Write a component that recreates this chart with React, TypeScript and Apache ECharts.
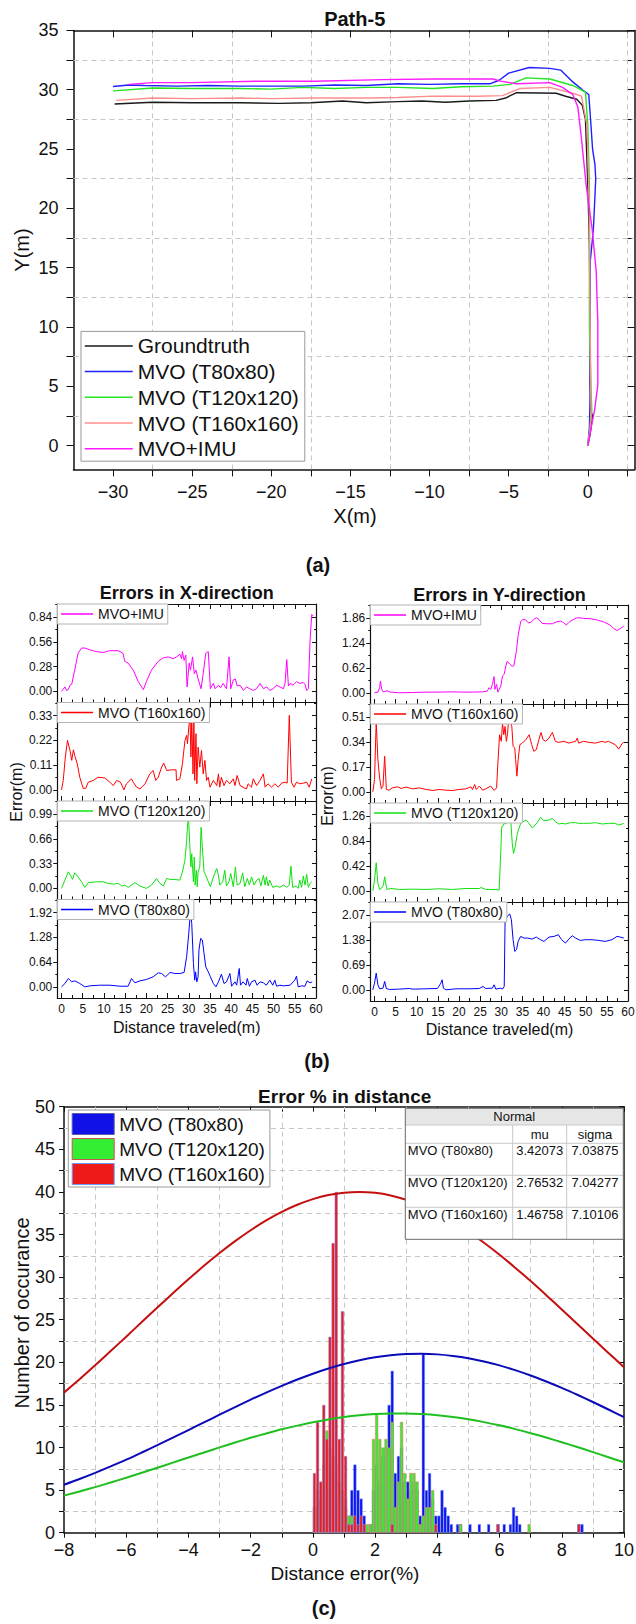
import React, { useEffect, useRef } from 'react';
import * as echarts from 'echarts';

const FONT = 'Liberation Sans, Arial, Helvetica, sans-serif';

// ---------------- (a) Path-5 trajectories ----------------
const pathNames = ['Groundtruth', 'MVO (T80x80)', 'MVO (T120x120)', 'MVO (T160x160)', 'MVO+IMU'];
const pathColors = ['#1a1a1a', '#1f1fff', '#22e622', '#ff8c8c', '#ff1aff'];
const pathGroundtruth = [[0,0],[0.15,1],[0.3,2.5],[0.2,2.9],[0.15,5],[0.15,10],[0.1,17],[0,22],[-0.15,27.5],[-0.35,28.7],[-0.7,29.2],[-1.4,29.45],[-2,29.7],[-3,29.72],[-4.5,29.75],[-5.2,29.3],[-5.8,29.1],[-7.5,29.05],[-9,28.95],[-10.5,29.05],[-12,29],[-14,28.9],[-15.5,29.05],[-17.5,28.9],[-19.5,28.85],[-22,28.9],[-25,28.9],[-27.5,28.95],[-29.9,28.8]];
const pathT80 = [[0,0],[0.1,1.5],[0.15,4.5],[0.15,10],[0.15,15.5],[0.3,17.5],[0.36,18.5],[0.45,21],[0.5,22.5],[0.45,23.7],[0.3,25],[0.2,27],[0.06,29.6],[-0.3,29.95],[-0.95,30.66],[-1.7,31.65],[-2.4,31.8],[-3.7,31.87],[-5,31.4],[-5.6,30.8],[-6.2,30.5],[-8,30.5],[-10,30.45],[-12,30.5],[-14,30.35],[-16,30.4],[-18,30.3],[-20,30.3],[-22,30.3],[-24,30.35],[-26,30.3],[-28,30.35],[-29,30.4],[-30,30.27]];
const pathT120 = [[0,0],[0.15,1.5],[0.25,2.95],[0.2,5.06],[0.1,10],[0.1,16.5],[0.1,22],[0,27],[-0.15,29.8],[-0.95,30.36],[-2.4,30.9],[-3.9,31],[-4.9,30.45],[-6,30.3],[-8,30.25],[-9.8,30.1],[-12,30.2],[-14,30.2],[-16,30.1],[-18,30.2],[-20,30.05],[-22,30.1],[-25,30.1],[-27.5,30.15],[-30,29.9]];
const pathT160 = [[0,0],[0.15,1.5],[0.2,3],[0.15,10],[0.1,20],[-0.05,27],[-0.4,29.46],[-0.95,29.7],[-2.4,30.2],[-4.3,30.1],[-5.4,29.5],[-7,29.45],[-9.8,29.46],[-12,29.35],[-14,29.3],[-17.2,29.3],[-20,29.25],[-22,29.3],[-25,29.25],[-27.5,29.3],[-29.8,29.1]];
const pathIMU = [[0,0],[0.2,1.45],[0.42,2.95],[0.63,5.06],[0.63,10.5],[0.53,14.7],[0.27,18.3],[-0.1,21.9],[-0.42,26.1],[-0.63,28.55],[-0.95,29.6],[-1.6,30.2],[-2.4,30.6],[-4.5,30.5],[-5.5,30.72],[-6,30.9],[-9.8,30.9],[-13,30.85],[-17.2,30.72],[-21,30.72],[-25,30.6],[-27.5,30.6],[-29,30.45]];
const pathXTicks = [-30, -25, -20, -15, -10, -5, 0];
const pathXMinor = [-27.5, -22.5, -17.5, -12.5, -7.5, -2.5, 2.5];
const pathYTicks = [0, 5, 10, 15, 20, 25, 30, 35];
const pathYMinor = [2.5, 7.5, 12.5, 17.5, 22.5, 27.5, 32.5];

// ---------------- (b) Errors ----------------
const panelNames = ['MVO+IMU', 'MVO (T160x160)', 'MVO (T120x120)', 'MVO (T80x80)'];
const panelColors = ['#ff00ff', '#ff0000', '#10e010', '#0000ff'];
const errXSteps = [0.28, 0.11, 0.33, 0.64];
const errYSteps = [0.62, 0.17, 0.42, 0.69];
const distTicks = [0, 5, 10, 15, 20, 25, 30, 35, 40, 45, 50, 55, 60];
const distMinor = [2.5, 7.5, 12.5, 17.5, 22.5, 27.5, 32.5, 37.5, 42.5, 47.5, 52.5, 57.5];

const errXIMU = [[0,0],[0.8,0.05],[1.2,0.01],[1.6,0.02],[2,0.07],[2.4,0.08],[3.1,0.24],[3.9,0.43],[4.7,0.49],[5.5,0.49],[6.7,0.47],[8.2,0.45],[9.8,0.44],[11.4,0.46],[13.4,0.46],[14.5,0.43],[14.9,0.34],[15.7,0.32],[16.9,0.24],[18.1,0.11],[19.3,0.02],[20,0.11],[21.2,0.24],[22.8,0.34],[24,0.38],[25.2,0.39],[26.3,0.37],[27.1,0.39],[27.9,0.42],[28.3,0.37],[28.5,0.45],[28.9,0.35],[29.3,0.41],[29.6,0.05],[30.1,0.32],[30.4,0.24],[30.9,0.39],[31.3,0.2],[31.7,0.24],[32.2,0.14],[32.9,0.03],[33.4,0.2],[34,0.43],[34.6,0.45],[35.1,0.03],[35.8,0.09],[36.2,0.03],[37,0.07],[37.5,0.04],[38.1,0.09],[38.9,0.03],[39.5,0.39],[39.9,0.03],[40.5,0.13],[41,0.14],[41.4,0.06],[42.1,0.07],[42.9,0.01],[43.6,0.05],[44.4,0.03],[45.2,0.01],[46,0.03],[46.8,0.09],[47.6,0.03],[48.4,0.05],[49.1,0.01],[49.9,0.03],[50.7,0.07],[51.5,0.05],[52.3,0.03],[52.7,0.09],[53.1,0.36],[53.5,0.06],[53.9,0.09],[54.6,0.07],[55.4,0.11],[56.2,0.09],[57,0.1],[57.4,0.08],[57.8,0.01],[58.2,0.03],[58.6,0.58],[59,0.87],[59.4,0.85]];
const errXT160 = [[0,0],[0.4,0.042],[0.9,0.146],[1.4,0.22],[2,0.175],[2.4,0.131],[2.8,0.178],[3.1,0.153],[3.7,0.116],[4.3,0.056],[5.1,0.007],[5.7,0.007],[6.3,0.034],[7.5,0.042],[8.6,0.056],[10.2,0.053],[11.4,0.034],[12.2,0.019],[13,0.042],[13.9,0.034],[14.7,0],[15.3,0.027],[16.5,0.049],[16.9,0.034],[17.7,0.012],[18.5,0.004],[19.7,0.027],[20.8,0.071],[21.6,0.086],[22.2,0.042],[22.8,0.056],[23.6,0.101],[24.1,0.119],[24.8,0.086],[25.9,0.089],[27,0.089],[27.1,0.042],[27.9,0.049],[28.5,0.116],[29.1,0.22],[29.5,0.242],[29.7,0.205],[30,0.279],[30.3,0.324],[30.5,0.146],[30.7,0.324],[31,0.071],[31.2,0.324],[31.4,0.042],[31.7,0.25],[31.9,0.027],[32.2,0.19],[32.6,0.101],[33,0.175],[33.4,0.071],[33.8,0.131],[34.2,0.042],[34.6,0.056],[35,0.012],[35.8,0.042],[36.6,0.019],[37,0.071],[37.3,0.012],[37.7,0.056],[38.3,0.019],[38.9,0.042],[39.7,0.027],[40.5,0.049],[40.9,0.019],[41.4,0.064],[42.1,0.019],[42.8,0.012],[43.6,0.004],[44,0.027],[44.8,0.012],[45.2,0.049],[46,0.019],[46.8,0.042],[47.6,0.071],[48,0.012],[48.7,0.027],[49.5,0.012],[50.3,0.027],[51.1,0.012],[51.9,0.03],[52.7,0.034],[53.2,0.03],[53.7,0.331],[54.2,0.034],[54.8,0.012],[55.4,0.034],[56.2,0.027],[57,0.03],[57.8,0.034],[58.4,0.012],[59,0.049]];
const errXT120 = [[0,0],[0.8,0.11],[1.6,0.22],[2.1,0.176],[2.6,0.119],[3.1,0.207],[3.9,0.154],[4.7,0.088],[5.5,0.013],[6.3,0.075],[8.3,0.088],[9.8,0.088],[11,0.066],[12.2,0.057],[13.4,0.066],[14.2,0.031],[14.9,0.044],[15.7,0.013],[16.5,0.044],[17.3,0.075],[18.5,0.031],[20,0],[21.2,0.044],[22.4,0.132],[23.2,0.066],[24,0.031],[24.8,0.132],[25.6,0.119],[26.7,0.119],[27.9,0.11],[28.5,0.22],[29.1,0.374],[29.5,0.638],[29.9,0.99],[30.3,0.506],[30.5,0.286],[30.7,0.462],[31.1,0.088],[31.3,0.418],[31.5,0.044],[31.8,0.242],[32,0.022],[32.2,0.22],[32.6,0.286],[32.9,0.814],[33.2,0.55],[33.6,0.22],[34,0.176],[34.6,0.088],[35.1,0.022],[35.8,0.154],[36.6,0.264],[37,0.176],[37.3,0.044],[38,0.088],[38.5,0.242],[38.9,0.031],[39.5,0.088],[39.9,0.198],[40.5,0.022],[41,0.286],[41.4,0.044],[42.1,0.066],[42.7,0.207],[43.2,0.022],[43.8,0.132],[44.3,0.044],[44.8,0.154],[45.4,0.044],[46,0.11],[46.6,0.132],[47,0.031],[47.6,0.176],[48,0.044],[48.3,0.154],[48.7,0.031],[49.1,0.11],[49.8,0.013],[50.7,0.031],[51.5,0.013],[52.3,0.044],[53.1,0.013],[53.7,0.044],[54.1,0.295],[54.5,0.013],[55.3,0.031],[55.8,0],[56.2,0.11],[56.6,0.013],[57,0.163],[57.4,0.044],[57.8,0.189],[58.2,0.013],[58.6,0.066],[59,0.088]];
const errXT80 = [[0,0],[0.8,0.087],[1.6,0.216],[2.4,0.13],[3.1,0.156],[4.3,0.087],[5.5,0],[6.7,0.026],[9,0.043],[11.4,0.043],[13.8,0.017],[15.7,0.017],[16.5,0.216],[17.3,0.104],[18.5,0.156],[20,0.19],[21.6,0.26],[22.8,0.363],[23.6,0.346],[24.5,0.26],[25.6,0.372],[26.7,0.346],[27.9,0.346],[28.9,0.372],[29.5,0.779],[30,1.384],[30.4,1.946],[30.7,1.644],[31.1,0.606],[31.4,0.173],[31.6,0.389],[31.9,0.13],[32.2,0.26],[32.4,0.952],[32.8,1.254],[33.2,1.211],[33.6,0.865],[34,0.519],[34.6,0.389],[35.1,0.26],[35.8,0.087],[36.4,0],[37,0.13],[37.7,0.329],[38.3,0.087],[38.9,0.13],[39.7,0.346],[40.1,0.017],[40.9,0.13],[41.3,0.043],[41.9,0.476],[42.2,0.043],[42.8,0.13],[43.5,0.043],[43.8,0.216],[44.3,0.017],[44.8,0.13],[45.6,0.173],[46.1,0.043],[46.8,0.13],[47.6,0.104],[48.3,0.043],[49.1,0.173],[49.8,0.043],[50.3,0.173],[50.7,0.017],[51.5,0.043],[52.3,0.026],[53.9,0.043],[55,0.173],[55.4,0.277],[55.8,0],[56.6,0.026],[57.4,0.017],[57.9,0.156],[58.6,0.104],[59.1,0.13]];
const errYIMU = [[0,0],[0.8,0.017],[1.2,0.127],[1.4,0.295],[1.7,0.084],[2.1,0.017],[2.9,0.051],[3.7,0.017],[5.9,0],[9,0.008],[12.2,0.017],[15.3,0.017],[18.5,0.025],[20.8,0.017],[23.2,0.017],[25.6,0.025],[26.7,0.042],[27.1,0.127],[27.5,0.084],[27.9,0.211],[28.3,0.405],[28.5,0.084],[28.9,0.211],[29.2,0.017],[29.5,0.084],[29.9,0.169],[30.3,0.422],[30.7,0.464],[31.1,0.675],[31.4,0.784],[32,0.717],[32.6,0.658],[33,0.675],[33.6,1.054],[34,1.434],[34.6,1.771],[35.1,1.83],[35.8,1.814],[36.4,1.746],[37,1.754],[37.7,1.83],[38.3,1.873],[38.9,1.83],[39.7,1.729],[40.9,1.721],[42.1,1.721],[43.2,1.771],[44,1.788],[44.8,1.746],[45.4,1.687],[46,1.754],[46.8,1.814],[48,1.873],[49.5,1.856],[51.1,1.847],[52.7,1.814],[54.2,1.771],[55.8,1.687],[56.6,1.603],[57.4,1.552],[58.2,1.603],[59,1.662]];
const errYT160 = [[-0.4,0],[0,0.084],[0.4,0.481],[0.8,0.22],[1.2,0.095],[1.6,0.02],[2,0.039],[2.4,0.243],[2.8,0.016],[3.4,0.011],[4.2,0.027],[5.5,0.034],[6.3,0.023],[7.5,0.032],[9,0.02],[10.6,0.027],[12.2,0.016],[13.8,0.009],[15.3,0.016],[16.9,0.011],[18.5,0.009],[20,0.016],[21.6,0.02],[22.8,0.034],[23.2,0.016],[23.7,0.05],[24.1,0.016],[24.8,0.039],[25.6,0.011],[26.3,0.02],[27.5,0.039],[28.3,0.009],[28.9,0.027],[29.2,0.197],[29.6,0.39],[30,0.345],[30.3,0.469],[30.6,0.39],[30.9,0.447],[31.2,0.345],[31.5,0.401],[31.8,0.515],[32.2,0.481],[32.5,0.447],[32.8,0.311],[33.2,0.299],[33.4,0.22],[33.7,0.107],[34,0.22],[34.4,0.322],[35,0.333],[35.8,0.356],[36.6,0.39],[37.2,0.322],[37.7,0.277],[38.3,0.288],[38.9,0.356],[39.4,0.406],[39.9,0.356],[40.5,0.345],[41.3,0.367],[42.1,0.406],[42.8,0.345],[43.6,0.338],[44.8,0.345],[46,0.333],[47.6,0.345],[48,0.367],[48.3,0.333],[49.5,0.345],[50.7,0.338],[52.3,0.333],[53.9,0.345],[54.6,0.338],[55.4,0.345],[56.2,0.333],[57,0.322],[57.8,0.292],[58.6,0.329],[59,0.338]];
const errYT120 = [[-0.4,0],[0,0.18],[0.4,0.474],[0.8,0.124],[1.2,0.023],[1.6,0.039],[2.1,0.096],[2.4,0.237],[2.9,0.023],[3.9,0.039],[5.9,0.023],[9,0.028],[12.2,0.023],[15.3,0.034],[18.5,0.023],[21.6,0.039],[24.8,0.039],[25.2,0.056],[26.3,0.023],[28.7,0.023],[29.5,0.011],[29.9,0.688],[30.1,1.083],[30.4,1.094],[30.7,1.139],[31.1,1.128],[31.4,1.223],[31.7,1.28],[32,1.223],[32.3,1.139],[32.6,0.801],[32.9,0.631],[33.3,0.744],[33.8,0.97],[34.6,1.139],[35.8,1.195],[36.6,1.139],[37.2,1.071],[37.7,1.083],[38.5,1.15],[39.3,1.24],[40.1,1.184],[41.3,1.195],[42.1,1.223],[42.8,1.167],[43.6,1.128],[44.4,1.139],[45.2,1.128],[46.4,1.15],[47.6,1.15],[48.3,1.139],[49.5,1.139],[50.7,1.139],[52.3,1.15],[53.9,1.128],[55.4,1.139],[57,1.139],[57.8,1.111],[58.6,1.128],[59,1.139]];
const errYT80 = [[-0.4,0],[0,0.185],[0.4,0.463],[0.8,0.139],[1.2,0.028],[2,0.046],[2.4,0.232],[2.8,0.037],[3.5,0.009],[5.9,0.019],[8.3,0.037],[9,0.019],[12.2,0.028],[14.9,0.037],[15.7,0.185],[16,0.278],[16.3,0.046],[16.9,0],[19.3,0.028],[22.4,0.028],[24.8,0.037],[25.7,0.093],[26.3,0.037],[27.9,0.046],[28.3,0.139],[28.7,0.019],[29.9,0.046],[30.3,0.019],[30.7,0.093],[30.9,1.898],[31.4,2.037],[32,2.102],[32.4,1.945],[32.8,1.389],[33.2,1.065],[33.6,1.111],[34,1.343],[34.6,1.482],[35.4,1.435],[36.2,1.435],[37.3,1.408],[38.3,1.463],[39.3,1.389],[40.1,1.343],[41.3,1.463],[42.5,1.482],[43.5,1.528],[44.3,1.389],[45.2,1.296],[46,1.408],[46.8,1.5],[47.6,1.435],[48.7,1.37],[49.9,1.389],[51.5,1.389],[53.1,1.37],[54.6,1.343],[56.2,1.389],[57.4,1.482],[58.2,1.463],[59,1.435]];

// ---------------- (c) Histogram ----------------
const histNames = ['MVO (T80x80)', 'MVO (T120x120)', 'MVO (T160x160)'];
// [bin start (%), count], bin width 0.1
const histT80 = [[0.0,3],[0.1,5],[0.2,4],[0.3,6],[0.4,5],[0.5,8],[0.6,7],[0.7,6],[0.8,5],[0.9,4],[1.0,3],[1.1,2],[1.2,5],[1.3,8],[1.4,5],[1.5,4],[1.6,2],[1.8,1],[1.9,5],[2.0,8],[2.1,6],[2.2,9],[2.3,10],[2.4,15],[2.5,19],[2.6,7],[2.7,9],[2.8,10],[2.9,6],[3.0,6],[3.1,5],[3.2,6],[3.3,5],[3.4,2],[3.5,21],[3.6,5],[3.7,7],[3.8,4],[3.9,2],[4.0,2],[4.1,5],[4.2,3],[4.3,2],[4.4,1],[4.6,1],[4.7,1],[5.0,1],[5.3,1],[5.6,1],[5.9,1],[6.1,1],[6.3,1],[6.4,3],[6.5,2],[6.6,1],[8.5,1],[8.6,1]];
const histT120 = [[0.0,3],[0.1,5],[0.2,4],[0.3,8],[0.4,12],[0.5,10],[0.6,9],[0.7,8],[0.8,6],[0.9,5],[1.0,4],[1.1,2],[1.2,2],[1.7,1],[1.8,1],[1.9,11],[2.0,14],[2.1,11],[2.2,10],[2.3,11],[2.4,10],[2.5,13],[2.6,3],[2.7,6],[2.8,13],[2.9,7],[3.0,4],[3.1,7],[3.2,7],[3.3,6],[3.4,1],[3.5,2],[3.6,3],[3.7,3],[3.8,5],[3.9,1],[4.7,1],[6.9,1]];
const histT160 = [[0.0,7],[0.1,13],[0.2,6],[0.3,15],[0.4,11],[0.5,23],[0.6,34],[0.7,40],[0.8,11],[0.9,26],[1.0,9],[1.1,1],[1.2,1],[1.3,2],[1.4,1],[1.5,2],[1.6,1],[2.5,1],[3.9,1],[5.9,1],[8.5,1]];
// normal-fit curves read at every 0.5 %
const fitX = [-8, -7.5, -7, -6.5, -6, -5.5, -5, -4.5, -4, -3.5, -3, -2.5, -2, -1.5, -1, -0.5, 0, 0.5, 1, 1.5, 2, 2.5, 3, 3.5, 4, 4.5, 5, 5.5, 6, 6.5, 7, 7.5, 8, 8.5, 9, 9.5, 10];
const fitT80 = [5.63, 6.3, 7.02, 7.78, 8.57, 9.41, 10.27, 11.15, 12.05, 12.95, 13.85, 14.74, 15.61, 16.45, 17.24, 17.98, 18.66, 19.27, 19.79, 20.23, 20.58, 20.82, 20.96, 21.0, 20.93, 20.75, 20.48, 20.1, 19.64, 19.08, 18.45, 17.75, 17.0, 16.19, 15.34, 14.46, 13.57];
const fitT120 = [4.35, 4.84, 5.35, 5.89, 6.45, 7.03, 7.62, 8.22, 8.83, 9.42, 10.01, 10.59, 11.14, 11.65, 12.14, 12.57, 12.96, 13.29, 13.57, 13.78, 13.92, 13.99, 13.99, 13.92, 13.79, 13.58, 13.31, 12.98, 12.6, 12.16, 11.68, 11.17, 10.62, 10.05, 9.46, 8.86, 8.26];
const fitT160 = [16.44, 18.02, 19.65, 21.32, 23.01, 24.72, 26.42, 28.1, 29.74, 31.32, 32.82, 34.22, 35.5, 36.66, 37.66, 38.49, 39.15, 39.63, 39.91, 40.0, 39.89, 39.58, 39.08, 38.39, 37.54, 36.51, 35.34, 34.04, 32.63, 31.11, 29.53, 27.88, 26.2, 24.5, 22.79, 21.1, 19.43];
const fitMu = [3.42073, 2.76532, 1.46758];
const fitSigma = [7.03875, 7.04277, 7.10106];
const pctXTicks = [-8, -6, -4, -2, 0, 2, 4, 6, 8, 10];
const pctXMinor = [-7, -5, -3, -1, 1, 3, 5, 7, 9];
const pctYTicks = [0, 5, 10, 15, 20, 25, 30, 35, 40, 45, 50];
const pctYMinor = [2.5, 7.5, 12.5, 17.5, 22.5, 27.5, 32.5, 37.5, 42.5, 47.5];

const minusFmt = (v: number) => (v < 0 ? '\u2212' + Math.abs(v) : String(v));
const fix2 = (v: number) => v.toFixed(2);

type Spec = {
  min: number; max: number; major: number[]; minor: number[]; labels: number[] | null;
  fmt: (v: number) => string; fontSize: number; margin: number; majorLen: number; minorLen: number;
  outward: boolean; lineW: number;
};

function axisObj(grid: number, spec: Spec, pos: string, ticks: number[], len: number, inside: boolean, showLine: boolean, labels: number[] | null) {
  return {
    type: 'value', gridIndex: grid, position: pos, min: spec.min, max: spec.max,
    axisLine: { show: showLine, onZero: false, lineStyle: { color: '#111', width: spec.lineW } },
    axisTick: { show: ticks.length > 0, inside, length: len, customValues: ticks, lineStyle: { color: '#111', width: 1 } },
    axisLabel: labels
      ? { show: true, customValues: labels, formatter: spec.fmt, margin: spec.margin, fontSize: spec.fontSize, color: '#111', fontFamily: FONT }
      : { show: false },
    splitLine: { show: false }, minorTick: { show: false }, minorSplitLine: { show: false },
    axisPointer: { show: false }, silent: true,
  };
}

function buildAxes(grid: number, xs: Spec, ys: Spec, xAxes: any[], yAxes: any[]) {
  xAxes.push(axisObj(grid, xs, 'bottom', xs.major, xs.majorLen, !xs.outward, true, xs.labels));
  xAxes.push(axisObj(grid, xs, 'top', xs.major, xs.majorLen, true, true, null));
  xAxes.push(axisObj(grid, xs, 'bottom', xs.minor, xs.minorLen, !xs.outward, false, null));
  xAxes.push(axisObj(grid, xs, 'top', xs.minor, xs.minorLen, true, false, null));
  yAxes.push(axisObj(grid, ys, 'left', ys.major, ys.majorLen, !ys.outward, true, ys.labels));
  yAxes.push(axisObj(grid, ys, 'right', ys.major, ys.majorLen, true, true, null));
  yAxes.push(axisObj(grid, ys, 'left', ys.minor, ys.minorLen, !ys.outward, false, null));
  yAxes.push(axisObj(grid, ys, 'right', ys.minor, ys.minorLen, true, false, null));
}

const gridLineStyle = { type: [5, 4], color: '#c6c6c6', width: 1 };

function txt(x: number, y: number, text: string, size: number, bold = false, rot = 0, align = 'center') {
  return {
    type: 'text', x, y, rotation: rot, z: 50, silent: true,
    style: {
      text, fontSize: size, fontWeight: bold ? 'bold' : 'normal', fontFamily: FONT, fill: '#111',
      align, verticalAlign: 'middle', textAlign: align, textVerticalAlign: 'middle',
    },
  };
}

function buildOption() {
  const grids: any[] = [];
  const xAxes: any[] = [];
  const yAxes: any[] = [];
  const series: any[] = [];
  const legends: any[] = [];
  const graphics: any[] = [];

  const addGrid = (rect: number[], xs: Spec, ys: Spec) => {
    const g = grids.length;
    grids.push({ left: rect[0], top: rect[1], width: rect[2], height: rect[3], containLabel: false, outerBoundsMode: 'none', show: false });
    buildAxes(g, xs, ys, xAxes, yAxes);
    return g;
  };

  // ----- (a)
  const gA = addGrid([73.5, 30.4, 561, 439],
    { min: -32.5, max: 2.95, major: pathXTicks, minor: pathXMinor, labels: pathXTicks, fmt: minusFmt, fontSize: 18, margin: 14, majorLen: 7, minorLen: 7, outward: true, lineW: 1.5 },
    { min: -2, max: 35, major: pathYTicks, minor: pathYMinor, labels: pathYTicks, fmt: minusFmt, fontSize: 18, margin: 15, majorLen: 7, minorLen: 7, outward: true, lineW: 1.5 });
  const pathData = [pathGroundtruth, pathT80, pathT120, pathT160, pathIMU];
  pathData.forEach((d, i) => {
    const s: any = {
      type: 'line', name: pathNames[i], xAxisIndex: gA * 4, yAxisIndex: gA * 4, data: d,
      symbol: 'none', showSymbol: false, silent: true, z: 2,
      lineStyle: { color: pathColors[i], width: 1.4 }, itemStyle: { color: pathColors[i] },
    };
    if (i === 0) {
      s.markLine = {
        silent: true, symbol: 'none', z: 1, label: { show: false }, emphasis: { disabled: true },
        lineStyle: gridLineStyle,
        data: [...pathXMinor.map((v) => ({ xAxis: v })), ...pathYMinor.map((v) => ({ yAxis: v }))],
      };
    }
    series.push(s);
  });
  legends.push({
    orient: 'vertical', left: 81, top: 331.4, padding: [4, 6, 2, 3], itemWidth: 48, itemHeight: 14, itemGap: 4.7,
    selectedMode: false, backgroundColor: '#fff', borderColor: '#999', borderWidth: 1,
    textStyle: { fontSize: 21, color: '#111', fontFamily: FONT },
    data: pathNames.map((n, i) => ({ name: n, lineStyle: { color: pathColors[i], width: 1.5, opacity: 1 }, itemStyle: { opacity: 0 } })),
  });

  // ----- (b)
  const colData = [[errXIMU, errXT160, errXT120, errXT80], [errYIMU, errYT160, errYT120, errYT80]];
  const colSteps = [errXSteps, errYSteps];
  const colLeft = [57.3, 370.3];
  const colWidth = [258.7, 257.7];
  const colTops = [[604, 702.5, 801, 899.5], [605, 704, 803, 902]];
  const colH = [98.5, 99];
  for (let c = 0; c < 2; c++) {
    for (let p = 0; p < 4; p++) {
      const s = colSteps[c][p];
      const rect = [colLeft[c], colTops[c][p], colWidth[c], colH[c]];
      const g = addGrid(rect,
        { min: -1, max: 60, major: distTicks, minor: distMinor, labels: p === 3 ? distTicks : null, fmt: minusFmt, fontSize: 12, margin: 5, majorLen: 5, minorLen: 3, outward: false, lineW: 1.2 },
        { min: -0.45 * s, max: 3.53 * s, major: [0, s, 2 * s, 3 * s], minor: [0.5 * s, 1.5 * s, 2.5 * s, 3.5 * s], labels: [0, s, 2 * s, 3 * s], fmt: fix2, fontSize: 12, margin: 5, majorLen: 4, minorLen: 2, outward: true, lineW: 1.2 });
      series.push({
        type: 'line', name: panelNames[p], xAxisIndex: g * 4, yAxisIndex: g * 4, data: colData[c][p],
        symbol: 'none', showSymbol: false, silent: true, z: 2,
        lineStyle: { color: panelColors[p], width: 1 }, itemStyle: { color: panelColors[p] },
      });
      legends.push({
        orient: 'horizontal', left: rect[0], top: rect[1], padding: [3, 4, 3, 3], itemWidth: 32, itemHeight: 12, itemGap: 0,
        selectedMode: false, backgroundColor: '#fff', borderColor: '#b4b4b4', borderWidth: 1,
        textStyle: { fontSize: 14, color: '#111', fontFamily: FONT },
        data: [{ name: panelNames[p], lineStyle: { color: panelColors[p], width: 1.5, opacity: 1 }, itemStyle: { opacity: 0 } }],
      });
    }
  }

  // ----- (c)
  const gC = addGrid([64, 1106.7, 560, 426],
    { min: -8, max: 10, major: pctXTicks, minor: pctXMinor, labels: pctXTicks, fmt: minusFmt, fontSize: 18, margin: 8, majorLen: 5, minorLen: 5, outward: true, lineW: 1.5 },
    { min: 0, max: 50, major: pctYTicks, minor: pctYMinor, labels: pctYTicks, fmt: minusFmt, fontSize: 18, margin: 9, majorLen: 5, minorLen: 5, outward: true, lineW: 1.5 });
  const hists = [histT80, histT120, histT160];
  const barFill = ['#1010e8', '#33ee33', '#ee1a1a'];
  const barEdge = ['#7da4ff', '#ff6a6a', '#7f9cff'];
  hists.forEach((h, i) => {
    const s: any = {
      type: 'bar', name: histNames[i], xAxisIndex: gC * 4, yAxisIndex: gC * 4,
      data: h.map(([b, n]) => [b + 0.05, n]), barWidth: 3.1, barGap: '-100%', silent: true, z: 2,
      itemStyle: { color: barFill[i], borderColor: barEdge[i], borderWidth: 0.5 },
    };
    if (i === 0) {
      s.markLine = {
        silent: true, symbol: 'none', z: 1, label: { show: false }, emphasis: { disabled: true },
        lineStyle: gridLineStyle,
        data: [...pctXMinor.map((v) => ({ xAxis: v })), ...pctYMinor.map((v) => ({ yAxis: v }))],
      };
    }
    series.push(s);
  });
  const fits = [fitT80, fitT120, fitT160];
  const fitColors = ['#0a0ab8', '#1fbf1f', '#c40f0f'];
  fits.forEach((f, i) => {
    series.push({
      type: 'line', name: 'Normal fit ' + histNames[i], xAxisIndex: gC * 4, yAxisIndex: gC * 4,
      data: fitX.map((x, k) => [x, f[k]]), smooth: 0.3, symbol: 'none', showSymbol: false, silent: true, z: 3,
      lineStyle: { color: fitColors[i], width: 2 }, itemStyle: { color: fitColors[i] },
    });
  });
  const swatchEdge = ['#5a5aa8', '#d05050', '#6a9aff'];
  legends.push({
    orient: 'vertical', left: 68.3, top: 1110, padding: [3, 5, 2, 3.4], itemWidth: 42, itemHeight: 21, itemGap: 3,
    selectedMode: false, backgroundColor: '#fff', borderColor: '#999', borderWidth: 1,
    textStyle: { fontSize: 19, color: '#111', fontFamily: FONT },
    data: histNames.map((n, i) => ({ name: n, icon: 'rect', itemStyle: { color: barFill[i], borderColor: swatchEdge[i], borderWidth: 1, opacity: 1 } })),
  });

  // ----- texts
  graphics.push(txt(354.7, 18.6, 'Path-5', 20, true));
  graphics.push(txt(355, 516, 'X(m)', 20));
  graphics.push(txt(22, 250, 'Y(m)', 20, false, Math.PI / 2));
  graphics.push(txt(318, 565, '(a)', 20, true));
  graphics.push(txt(186.7, 593.3, 'Errors in X-direction', 18, true));
  graphics.push(txt(499.5, 595, 'Errors in Y-direction', 18, true));
  graphics.push(txt(16, 792, 'Error(m)', 16, false, Math.PI / 2));
  graphics.push(txt(327, 796, 'Error(m)', 16, false, Math.PI / 2));
  graphics.push(txt(186.7, 1027.7, 'Distance traveled(m)', 16));
  graphics.push(txt(499.5, 1029.3, 'Distance traveled(m)', 16));
  graphics.push(txt(317, 1061, '(b)', 20, true));
  graphics.push(txt(344.7, 1096.7, 'Error % in distance', 19, true));
  graphics.push(txt(22, 1313, 'Number of occurance', 20, false, Math.PI / 2));
  graphics.push(txt(345, 1573, 'Distance error(%)', 19));
  graphics.push(txt(324, 1608, '(c)', 20, true));

  // ----- fit table
  const tx = [405.3, 512.7, 566.7, 623.3];
  const ty = [1108.3, 1125, 1143.3, 1175.3, 1207.3, 1239.3];
  const tz = 60;
  graphics.push({ type: 'rect', z: tz, silent: true, shape: { x: tx[0], y: ty[0], width: tx[3] - tx[0], height: ty[5] - ty[0] }, style: { fill: '#fff', stroke: 'none' } });
  graphics.push({ type: 'rect', z: tz, silent: true, shape: { x: tx[0], y: ty[0], width: tx[3] - tx[0], height: ty[1] - ty[0] }, style: { fill: '#e6e6e6', stroke: 'none' } });
  [ty[1], ty[2], ty[3], ty[4]].forEach((y) => {
    graphics.push({ type: 'line', z: tz + 1, silent: true, shape: { x1: tx[0], y1: y, x2: tx[3], y2: y }, style: { stroke: '#c8c8c8', lineWidth: 1 } });
  });
  [tx[1], tx[2]].forEach((x) => {
    graphics.push({ type: 'line', z: tz + 1, silent: true, shape: { x1: x, y1: ty[1], x2: x, y2: ty[5] }, style: { stroke: '#c8c8c8', lineWidth: 1 } });
  });
  graphics.push({ type: 'rect', z: tz + 2, silent: true, shape: { x: tx[0], y: ty[0], width: tx[3] - tx[0], height: ty[5] - ty[0] }, style: { fill: 'none', stroke: '#6a6a6a', lineWidth: 1 } });
  const tcell = (x: number, y: number, t: string, align = 'center') => {
    const e: any = txt(x, y, t, 13, false, 0, align);
    e.z = tz + 3;
    return e;
  };
  graphics.push(tcell((tx[0] + tx[3]) / 2, (ty[0] + ty[1]) / 2, 'Normal'));
  graphics.push(tcell((tx[1] + tx[2]) / 2, (ty[1] + ty[2]) / 2, 'mu'));
  graphics.push(tcell((tx[2] + tx[3]) / 2, (ty[1] + ty[2]) / 2, 'sigma'));
  histNames.forEach((n, i) => {
    const y = ty[2 + i] + 7.6;
    graphics.push(tcell(tx[0] + 2.5, y, n, 'left'));
    graphics.push(tcell((tx[1] + tx[2]) / 2, y, fitMu[i].toFixed(5)));
    graphics.push(tcell((tx[2] + tx[3]) / 2, y, fitSigma[i].toFixed(5)));
  });

  return {
    animation: false,
    backgroundColor: '#fff',
    textStyle: { fontFamily: FONT },
    grid: grids,
    xAxis: xAxes,
    yAxis: yAxes,
    legend: legends,
    series,
    graphic: { elements: graphics },
  };
}

export default function App() {
  const ref = useRef<HTMLDivElement>(null);
  useEffect(() => {
    document.body.style.margin = '0';
    const chart = echarts.init(ref.current as HTMLDivElement, null, { renderer: 'svg' });
    chart.setOption(buildOption() as any);
    return () => chart.dispose();
  }, []);
  return <div ref={ref} style={{ width: 636, height: 1624 }} />;
}
